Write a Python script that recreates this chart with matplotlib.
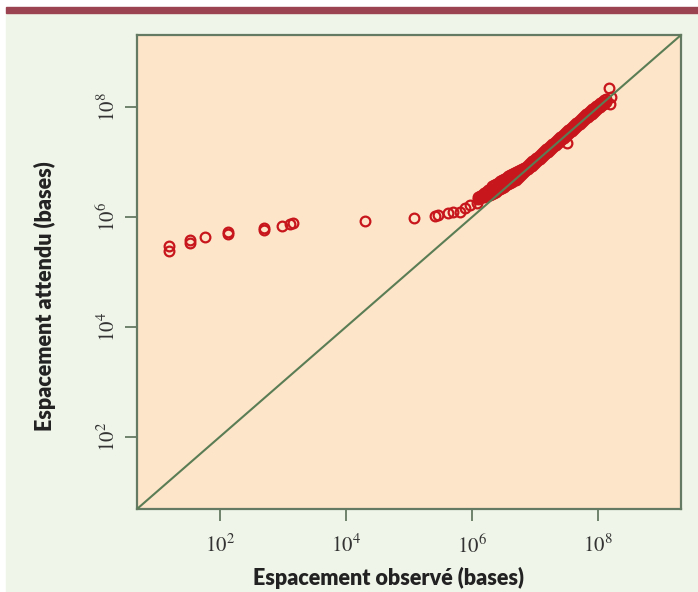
import numpy as np
import matplotlib.pyplot as plt
from matplotlib.patches import Rectangle

# Values, stored as log10(bases)
# isolated points on the left
obs_log10_sparse = [1.193, 1.193, 1.517, 1.517, 1.765, 2.130, 2.130, 2.692, 2.692, 2.978,
                    3.110, 3.153, 4.306, 5.084, 5.408, 5.466, 5.624, 5.704, 5.810, 5.890,
                    5.969, 6.075]
exp_log10_sparse = [5.474, 5.383, 5.583, 5.534, 5.643, 5.735, 5.687, 5.808, 5.771, 5.839,
                    5.870, 5.899, 5.930, 5.979, 6.021, 6.039, 6.081, 6.099, 6.099, 6.161,
                    6.221, 6.252]

# dense band: upper and lower edge of the cloud
obs_log10_band = [6.096, 6.160, 6.223, 6.287, 6.350, 6.414, 6.477, 6.541, 6.604, 6.668,
                  6.731, 6.795, 6.859, 6.922, 6.986, 7.049, 7.113, 7.176, 7.240, 7.303,
                  7.367, 7.430, 7.494, 7.557, 7.621, 7.684, 7.748, 7.811, 7.875, 7.939,
                  8.002, 8.066, 8.129]
exp_log10_band_hi = [6.358, 6.412, 6.458, 6.522, 6.577, 6.623, 6.668, 6.714, 6.759, 6.796,
                     6.832, 6.878, 6.923, 6.986, 7.041, 7.105, 7.169, 7.233, 7.296, 7.360,
                     7.424, 7.488, 7.552, 7.615, 7.679, 7.743, 7.807, 7.871, 7.934, 7.989,
                     8.053, 8.098, 8.153]
exp_log10_band_lo = [6.322, 6.358, 6.386, 6.412, 6.449, 6.495, 6.540, 6.586, 6.631, 6.668,
                     6.722, 6.786, 6.851, 6.914, 6.969, 7.033, 7.097, 7.161, 7.224, 7.288,
                     7.352, 7.416, 7.480, 7.543, 7.607, 7.671, 7.735, 7.799, 7.862, 7.917,
                     7.981, 8.044, 8.099]

# dense band: middle of the cloud and its outer rows
obs_log10_mid = [6.128, 6.192, 6.255, 6.319, 6.382, 6.446, 6.509, 6.573, 6.636, 6.700,
                 6.763, 6.827, 6.890, 6.954, 7.017, 7.081, 7.145, 7.208, 7.272, 7.335,
                 7.399, 7.462, 7.526, 7.589, 7.653, 7.716, 7.780, 7.843, 7.907, 7.970,
                 8.034, 8.097]
exp_log10_mid = [6.363, 6.404, 6.445, 6.490, 6.536, 6.582, 6.627, 6.673, 6.714, 6.755,
                 6.805, 6.860, 6.919, 6.978, 7.037, 7.101, 7.165, 7.229, 7.292, 7.356,
                 7.420, 7.484, 7.548, 7.611, 7.675, 7.739, 7.803, 7.867, 7.926, 7.985,
                 8.044, 8.099]
exp_log10_mid_hi = [6.383, 6.434, 6.495, 6.560, 6.606, 6.652, 6.697, 6.743, 6.784, 6.825,
                    6.855, 6.900, 6.959, 7.018, 7.077, 7.141, 7.205, 7.269, 7.332, 7.396,
                    7.460, 7.524, 7.588, 7.651, 7.715, 7.779, 7.843, 7.907, 7.966, 8.025,
                    8.084, 8.129]
exp_log10_mid_lo = [6.343, 6.374, 6.395, 6.420, 6.466, 6.512, 6.557, 6.603, 6.644, 6.685,
                    6.755, 6.820, 6.879, 6.938, 6.997, 7.061, 7.125, 7.189, 7.252, 7.316,
                    7.380, 7.444, 7.508, 7.571, 7.635, 7.699, 7.763, 7.827, 7.886, 7.945,
                    8.004, 8.069]

# a few outliers
obs_log10_out = [8.182, 8.216, 8.193, 7.505]
exp_log10_out = [8.349, 8.190, 8.062, 7.346]

tick_exp = [2, 4, 6, 8]
lim_log10 = [0.68, 9.32]

bg_color = '#eff5e9'
panel_color = '#fde5c9'
axis_color = '#647a62'
line_color = '#5b7d55'
point_color = '#c8161d'
bar_color = '#9c4352'

fig = plt.figure(figsize=(6.98, 5.92), dpi=100)
fig.patch.set_facecolor('white')

# page background and top bar
fig.add_artist(Rectangle((6 / 698, 0), 692 / 698, (592 - 12.5) / 592,
                         transform=fig.transFigure, color=bg_color, zorder=0))
fig.add_artist(Rectangle((6 / 698, (592 - 12.5) / 592), 692 / 698, 5.8 / 592,
                         transform=fig.transFigure, color=bar_color, zorder=0))

ax = fig.add_axes([137 / 698, 1 - 509 / 592, 544 / 698, 474 / 592])
ax.set_facecolor(panel_color)
ax.set_xscale('log')
ax.set_yscale('log')

lo, hi = 10 ** lim_log10[0], 10 ** lim_log10[1]
ax.set_xlim(lo, hi)
ax.set_ylim(lo, hi)

marker_kw = dict(linestyle='none', marker='o', ms=7, mew=1.6,
                 markerfacecolor='none', markeredgecolor=point_color, zorder=3)
ax.plot(10 ** np.array(obs_log10_sparse), 10 ** np.array(exp_log10_sparse), **marker_kw)
ax.plot(10 ** np.array(obs_log10_band), 10 ** np.array(exp_log10_band_hi), **marker_kw)
ax.plot(10 ** np.array(obs_log10_band), 10 ** np.array(exp_log10_band_lo), **marker_kw)
ax.plot(10 ** np.array(obs_log10_mid), 10 ** np.array(exp_log10_mid), **marker_kw)
ax.plot(10 ** np.array(obs_log10_mid), 10 ** np.array(exp_log10_mid_hi), **marker_kw)
ax.plot(10 ** np.array(obs_log10_mid), 10 ** np.array(exp_log10_mid_lo), **marker_kw)
ax.plot(10 ** np.array(obs_log10_out), 10 ** np.array(exp_log10_out), **marker_kw)

# y = x reference line, drawn over the points
ax.plot([lo, hi], [lo, hi], color=line_color, lw=1.5, zorder=4)

# axes styling (R-like)
for s in ax.spines.values():
    s.set_color(axis_color)
    s.set_linewidth(1.6)

ticks = [10.0 ** e for e in tick_exp]
labels = [r'$\mathregular{10^{%d}}$' % e for e in tick_exp]
plt.rcParams['mathtext.fontset'] = 'stix'
ax.set_xticks(ticks)
ax.set_yticks(ticks)
ax.set_xticklabels(labels, fontsize=15, family='STIXGeneral')
ax.set_yticklabels(labels, fontsize=15, family='STIXGeneral', rotation=90, va='center')
ax.minorticks_off()
ax.tick_params(axis='both', direction='out', length=8.5, width=1.3, color=axis_color,
               labelcolor='#333333')
ax.tick_params(axis='x', pad=10)
ax.tick_params(axis='y', pad=4)

ax.set_xlabel('Espacement observé (bases)', fontsize=15.5, fontweight='heavy',
              family='Lato', color='#222222', va='center', ha='center')
ax.set_ylabel('Espacement attendu (bases)', fontsize=15.5, fontweight='heavy',
              family='Lato', color='#222222', va='center', ha='center')
# the labels sit a little off centre in the original
ax.xaxis.set_label_coords(0.463, -0.1456)
ax.yaxis.set_label_coords(-0.169, 0.45)

plt.savefig('out.png', dpi=100, facecolor=fig.get_facecolor())
